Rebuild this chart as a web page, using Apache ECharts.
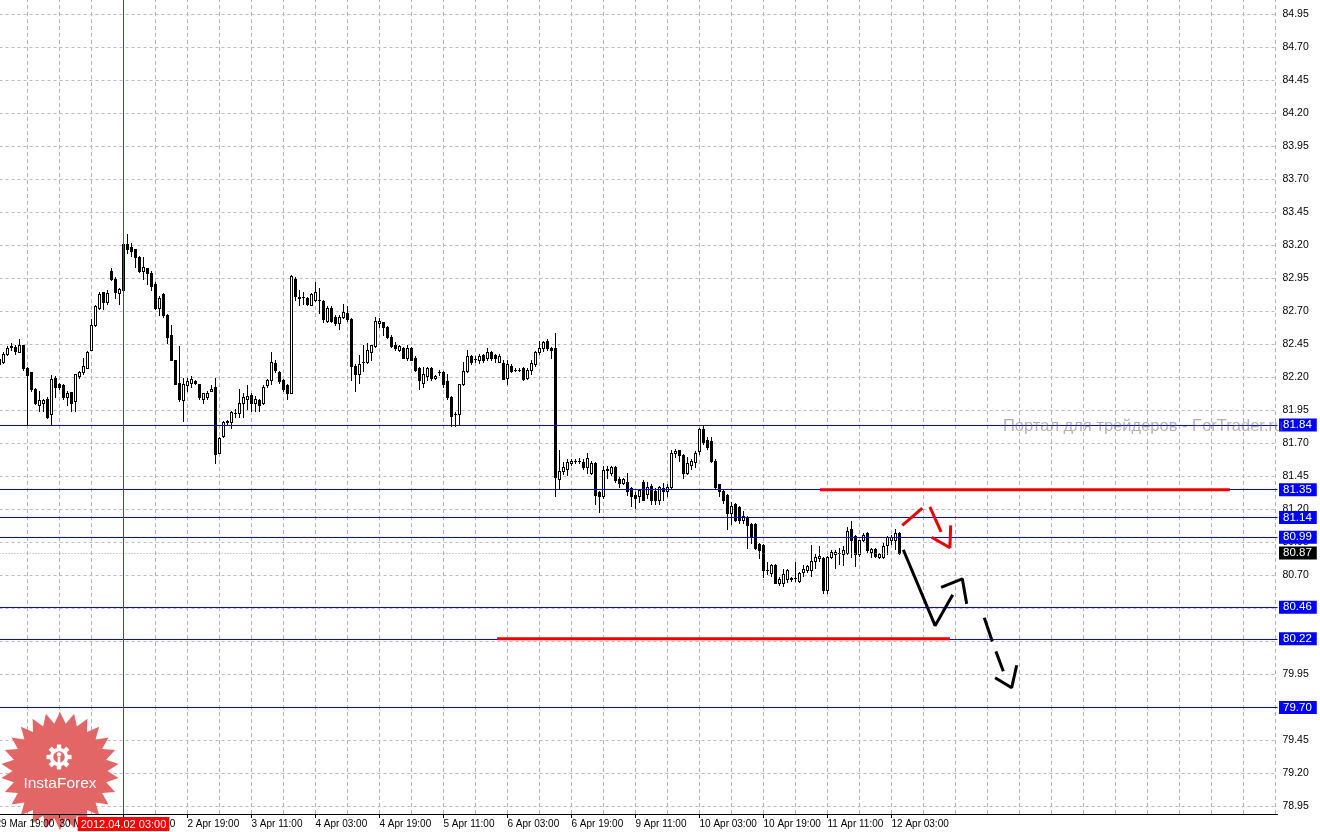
<!DOCTYPE html>
<html><head><meta charset="utf-8">
<script src="https://cdn.jsdelivr.net/npm/echarts@6/dist/echarts.min.js"></script>
<style>html,body{margin:0;padding:0;background:#fff}#c{width:1320px;height:832px}</style>
</head><body><div id="c"></div>
<script>
// ---- data (hourly bars, oldest first) ----
const opens=[82.30,82.32,82.38,82.43,82.43,82.39,82.45,82.27,82.24,82.11,
81.99,82.01,82.04,81.92,82.20,82.15,82.14,82.05,82.09,82.02,
82.21,82.24,82.27,82.41,82.60,82.73,82.85,82.77,83.01,82.95,
82.84,82.86,83.21,83.19,83.17,83.11,83.01,83.03,82.99,82.91,
82.73,82.83,82.67,82.52,82.33,82.16,82.03,82.14,82.16,82.17,
82.15,82.04,82.05,82.10,82.13,81.63,81.76,81.86,81.86,81.93,
81.93,82.01,82.04,82.07,82.01,82.03,82.01,82.14,82.18,82.31,
82.24,82.18,82.14,82.08,82.95,82.80,82.81,82.80,82.75,82.79,
82.79,82.78,82.63,82.73,82.66,82.61,82.66,82.69,82.64,82.29,
82.23,82.32,82.32,82.39,82.44,82.61,82.62,82.58,82.51,82.45,
82.41,82.42,82.35,82.42,82.35,82.27,82.16,82.21,82.27,82.20,
82.24,82.24,82.17,82.05,81.92,81.92,82.15,82.25,82.36,82.34,
82.33,82.37,82.35,82.39,82.37,82.32,82.31,82.20,82.29,82.26,
82.26,82.27,82.20,82.26,82.30,82.39,82.42,82.48,82.42,82.42,
81.43,81.49,81.51,81.55,81.57,81.57,81.56,81.52,81.48,81.55,
81.33,81.30,81.50,81.48,81.52,81.43,81.40,81.41,81.36,81.31,
81.30,81.41,81.32,81.38,81.34,81.27,81.36,81.34,81.37,81.63,
81.65,81.61,81.48,81.54,81.56,81.64,81.81,81.73,81.72,81.57,
81.39,81.34,81.31,81.17,81.24,81.22,81.12,81.14,81.09,81.09,
80.94,80.93,80.74,80.72,80.78,80.64,80.64,80.67,80.68,80.68,
80.66,80.73,80.74,80.74,80.81,80.83,80.83,80.59,80.84,80.86,
80.87,80.86,80.87,81.05,81.00,80.86,80.97,81.02,80.88,80.90,
80.84,80.84,80.93,80.97,80.97,81.02];
const closes=[82.34,82.38,82.42,82.44,82.40,82.45,82.27,82.22,82.11,82.01,
82.03,82.03,81.90,82.19,82.13,82.13,82.05,82.08,82.01,82.23,
82.24,82.29,82.39,82.60,82.74,82.83,82.77,82.84,82.95,82.85,
82.87,83.21,83.17,83.16,83.11,83.01,83.04,82.99,82.89,82.73,
82.80,82.67,82.51,82.33,82.15,82.04,82.15,82.17,82.19,82.16,
82.05,82.08,82.08,82.11,81.62,81.74,81.86,81.87,81.94,81.93,
82.01,82.05,82.06,82.01,82.04,81.99,82.13,82.18,82.32,82.26,
82.17,82.11,82.08,82.97,82.82,82.81,82.81,82.76,82.83,82.85,
82.79,82.64,82.73,82.63,82.61,82.66,82.70,82.64,82.29,82.23,
82.30,82.32,82.41,82.45,82.63,82.63,82.58,82.51,82.44,82.42,
82.44,82.35,82.42,82.33,82.26,82.18,82.23,82.27,82.20,82.21,
82.24,82.15,82.05,81.91,81.92,82.15,82.25,82.36,82.32,82.34,
82.36,82.33,82.39,82.35,82.35,82.36,82.19,82.30,82.25,82.26,
82.26,82.19,82.26,82.31,82.39,82.42,82.47,82.42,82.41,81.45,
81.49,81.52,81.56,81.57,81.57,81.57,81.52,81.59,81.55,81.31,
81.30,81.50,81.51,81.52,81.42,81.40,81.43,81.34,81.30,81.29,
81.35,81.27,81.37,81.27,81.27,81.37,81.34,81.37,81.63,81.64,
81.61,81.48,81.55,81.57,81.63,81.81,81.71,81.67,81.57,81.37,
81.34,81.27,81.17,81.23,81.12,81.12,81.15,81.08,80.99,80.91,
80.89,80.74,80.74,80.78,80.64,80.67,80.71,80.74,80.67,80.68,
80.72,80.75,80.77,80.81,80.84,80.85,80.59,80.84,80.88,80.88,
80.87,80.89,81.04,80.97,80.86,80.97,81.01,80.89,80.90,80.85,
80.86,80.92,80.99,80.99,81.02,80.87];
const lows=[82.29,82.31,82.37,82.41,82.38,82.39,82.26,81.84,82.10,82.00,
81.95,81.95,81.89,81.85,82.05,82.11,82.04,81.99,81.95,81.95,
82.20,82.23,82.27,82.41,82.59,82.72,82.72,82.76,82.94,82.80,
82.76,82.84,83.14,83.12,83.04,83.00,82.95,82.91,82.86,82.72,
82.67,82.66,82.46,82.33,82.15,82.02,81.87,82.10,82.13,82.15,
82.04,82.01,82.04,82.10,81.55,81.63,81.75,81.85,81.82,81.90,
81.90,81.90,81.96,81.95,81.95,81.95,82.00,82.13,82.15,82.24,
82.16,82.10,82.04,82.08,82.79,82.75,82.76,82.75,82.75,82.78,
82.69,82.62,82.62,82.62,82.60,82.57,82.65,82.63,82.18,82.10,
82.16,82.25,82.31,82.33,82.43,82.58,82.52,82.50,82.43,82.41,
82.40,82.35,82.33,82.33,82.25,82.11,82.13,82.18,82.18,82.19,
82.22,82.13,82.04,81.83,81.83,81.85,82.14,82.24,82.30,82.32,
82.31,82.32,82.33,82.33,82.32,82.32,82.19,82.15,82.24,82.25,
82.25,82.18,82.19,82.23,82.29,82.38,82.40,82.41,82.35,81.30,
81.36,81.47,81.46,81.54,81.55,81.55,81.51,81.48,81.47,81.24,
81.18,81.29,81.44,81.46,81.41,81.37,81.39,81.31,81.23,81.21,
81.26,81.27,81.29,81.24,81.24,81.24,81.27,81.30,81.36,81.60,
81.57,81.44,81.47,81.51,81.52,81.62,81.70,81.66,81.56,81.36,
81.30,81.25,81.05,81.09,81.11,81.10,81.10,80.91,80.95,80.90,
80.83,80.69,80.71,80.70,80.64,80.63,80.62,80.65,80.66,80.66,
80.65,80.70,80.73,80.70,80.76,80.81,80.57,80.57,80.83,80.76,
80.79,80.78,80.86,80.84,80.77,80.85,80.96,80.88,80.84,80.84,
80.83,80.83,80.86,80.94,80.90,80.86];
const highs=[82.35,82.39,82.44,82.46,82.45,82.49,82.45,82.28,82.24,82.12,
82.10,82.04,82.05,82.22,82.21,82.16,82.15,82.10,82.09,82.23,
82.25,82.35,82.40,82.64,82.75,82.85,82.85,82.86,83.03,82.96,
82.88,83.22,83.29,83.22,83.17,83.12,83.11,83.03,83.01,82.92,
82.82,82.84,82.68,82.60,82.33,82.44,82.20,82.20,82.21,82.18,
82.15,82.08,82.10,82.14,82.20,81.75,81.87,81.88,81.95,81.96,
82.11,82.08,82.14,82.08,82.06,82.04,82.14,82.19,82.39,82.33,
82.25,82.19,82.15,82.98,82.96,82.86,82.85,82.81,82.84,82.92,
82.88,82.79,82.74,82.74,82.67,82.67,82.76,82.74,82.65,82.30,
82.37,82.45,82.46,82.45,82.66,82.65,82.62,82.59,82.52,82.47,
82.45,82.43,82.45,82.43,82.36,82.28,82.28,82.28,82.28,82.22,
82.26,82.25,82.23,82.06,81.94,82.15,82.32,82.41,82.37,82.36,
82.38,82.38,82.42,82.40,82.38,82.38,82.33,82.33,82.30,82.27,
82.27,82.28,82.27,82.33,82.40,82.48,82.48,82.49,82.43,82.54,
81.65,81.56,81.58,81.58,81.58,81.59,81.58,81.63,81.57,81.56,
81.34,81.53,81.53,81.53,81.53,81.45,81.44,81.48,81.37,81.33,
81.35,81.42,81.41,81.39,81.36,81.38,81.40,81.39,81.65,81.66,
81.65,81.62,81.60,81.58,81.64,81.82,81.83,81.75,81.75,81.58,
81.39,81.35,81.32,81.26,81.25,81.23,81.19,81.15,81.10,81.10,
80.95,80.94,80.80,80.79,80.79,80.69,80.75,80.75,80.69,80.80,
80.73,80.78,80.78,80.93,80.86,80.92,80.84,80.85,80.89,80.89,
80.91,80.92,81.07,81.11,81.01,80.97,81.02,81.03,80.91,80.91,
80.87,80.95,81.00,81.01,81.05,81.03];

// time labels, one every 16 bar slots starting at slot 0
const tickLabels=["29 Mar 19:00","30 Mar 11:00","2 Apr 03:00","2 Apr 19:00","3 Apr 11:00","4 Apr 03:00","4 Apr 19:00","5 Apr 11:00","6 Apr 03:00","6 Apr 19:00","9 Apr 11:00","10 Apr 03:00","10 Apr 19:00","11 Apr 11:00","12 Apr 03:00"];
const priceTicks=[78.95,79.20,79.45,79.70,79.95,80.20,80.45,80.70,80.95,81.20,81.45,81.70,81.95,82.20,82.45,82.70,82.95,83.20,83.45,83.70,83.95,84.20,84.45,84.70,84.95];
const levelPrices=[81.84,81.35,81.14,80.99,80.46,80.22,79.70];
const bidPrice=80.87;
const cursorSlot=32, cursorLabel="2012.04.02 03:00";
// drawn objects: [slot, price] points
const redLevelSegments=[[[206.1,81.35],[308.6,81.35]],[[125.4,80.22],[238.6,80.22]]];
const redArrow=[[[226.7,81.08],[231.7,81.21]],[[233.6,81.22],[236.4,81.03]],[[234.05,80.99],[238.6,80.91],[238.8,81.08]]];
const blackSolid=[[[226.95,80.895],[234.9,80.32],[239.3,80.555]],[[236.4,80.61],[241.7,80.675],[242.8,80.485]]];
const blackDashed=[[[247.2,80.38],[249.2,80.20]],[[250.1,80.125],[251.95,79.975]],[[249.9,79.925],[254.05,79.85],[255.3,80.02]]];

// ---- layout ----
const N_SLOTS=321, FIRST_SLOT=1, GRID_STEP=8, LABEL_STEP=16;
const slots=Array.from({length:N_SLOTS},(_,i)=>String(i));
const candles=opens.map((o,k)=>[FIRST_SLOT+k,o,closes[k],lows[k],highs[k]]);
const vGrid=[];for(let v=0;v<N_SLOTS;v+=GRID_STEP)vGrid.push(v);
const FONT='"Liberation Sans", Arial, sans-serif';
const PX_PER_UNIT=132, PLOT_H=814;
const yMax=84.95+14.5/PX_PER_UNIT, yMin=yMax-PLOT_H/PX_PER_UNIT;

function showIdx(i){return i%LABEL_STEP===0 && i/LABEL_STEP<tickLabels.length;}

function segSeries(segs,color,z){
  return segs.map(s=>({type:'line',xAxisIndex:1,yAxisIndex:0,data:s,symbol:'none',silent:true,z:z,
    lineStyle:{color:color,width:3},animation:false}));
}

// MT4-style candle: crisp 3px body, 1px wick, hollow bull candles
function renderCandle(params, api){
  const x=api.value(0), o=api.value(1), c=api.value(2), l=api.value(3), h=api.value(4);
  const pO=api.coord([x,o]), pC=api.coord([x,c]), pL=api.coord([x,l]), pH=api.coord([x,h]);
  const cx=Math.floor(pO[0]);
  const yTop=Math.round(Math.min(pO[1],pC[1])), yBot=Math.round(Math.max(pO[1],pC[1]));
  const yH=Math.round(pH[1]), yL=Math.round(pL[1]);
  const kids=[
    {type:'rect',shape:{x:cx,y:yH,width:1,height:Math.max(1,yL-yH+1)},style:{fill:'#000'}},
    {type:'rect',shape:{x:cx-1,y:yTop,width:3,height:yBot-yTop+1},style:{fill:'#000'}}
  ];
  if(c>o && yBot-yTop>=2){
    kids.push({type:'rect',shape:{x:cx,y:yTop+1,width:1,height:yBot-yTop-1},style:{fill:'#fff'}});
  }
  return {type:'group',children:kids};
}

// star logo points
const starPts=[];const NS=26;
for(let k=0;k<2*NS;k++){const r=k%2===0?59:47.5;const a=k*Math.PI/NS-Math.PI/2;starPts.push([60+r*Math.cos(a),771+r*Math.sin(a)]);}
const gearParts=[];
gearParts.push({type:'circle',z:7,silent:true,x:59,y:757,shape:{cx:0,cy:0,r:7.5},style:{fill:'none',stroke:'#fff',lineWidth:3.5}});
for(let k=0;k<8;k++){gearParts.push({type:'rect',z:7,silent:true,x:59,y:757,rotation:k*Math.PI/4,shape:{x:-2.2,y:-12.5,width:4.4,height:4.5},style:{fill:'#fff'}});}
gearParts.push({type:'circle',z:7,silent:true,x:59,y:757,shape:{cx:0,cy:-2.5,r:2.2},style:{fill:'#fff'}});
gearParts.push({type:'rect',z:7,silent:true,x:59,y:757,shape:{x:-1.3,y:0,width:2.6,height:9},style:{fill:'#fff'}});

const labelBox=(txt,bg)=>({show:true,position:'end',distance:1.5,formatter:txt,color:'#fff',backgroundColor:bg,
  padding:[1,5,0,4],fontSize:11.5,fontFamily:FONT,lineHeight:12});

const chart=echarts.init(document.getElementById('c'),null,{renderer:'canvas'});
chart.setOption({
  animation:false,
  backgroundColor:'#ffffff',
  grid:{left:-6.5,top:0,width:1284,height:PLOT_H,containLabel:false,outerBoundsMode:'none'},
  xAxis:[{
    type:'category',data:slots,boundaryGap:true,position:'bottom',z:10,
    axisLine:{show:true,lineStyle:{color:'#000',width:1}},
    axisTick:{show:true,alignWithLabel:true,length:4,interval:(i)=>showIdx(i),lineStyle:{color:'#000'}},
    axisLabel:{show:true,interval:(i)=>showIdx(i),formatter:(v,i)=>tickLabels[i/LABEL_STEP]||'',align:'left',margin:5,
      fontSize:10,fontFamily:FONT,color:'#000',hideOverlap:false},
    splitLine:{show:false}
  },{
    type:'value',min:-0.5,max:N_SLOTS-0.5,show:false
  }],
  yAxis:[{
    type:'value',position:'right',min:yMin,max:yMax,z:10,
    axisLine:{show:true,lineStyle:{color:'#000',width:1}},
    axisTick:{show:true,length:3,customValues:priceTicks,lineStyle:{color:'#000'}},
    axisLabel:{show:true,customValues:priceTicks,formatter:(v)=>v.toFixed(2),margin:5,fontSize:10.5,fontFamily:FONT,color:'#000'},
    splitLine:{show:false}
  }],
  series:[
    {type:'line',xAxisIndex:1,yAxisIndex:0,data:[],silent:true,z:1,
      markLine:{silent:true,symbol:['none','none'],animation:false,z:1,label:{show:false},
        data:[].concat(
          vGrid.map(v=>({xAxis:v,lineStyle:{color:'#b4b4b4',type:[4,3],width:1}})),
          priceTicks.map(v=>({yAxis:v,lineStyle:{color:'#c6b6c0',type:[3,3],width:1}}))
        )}},
    {type:'custom',xAxisIndex:1,yAxisIndex:0,data:candles,renderItem:renderCandle,z:3,silent:true,clip:true,
      encode:{x:0,y:[1,2,3,4]}},
    {type:'line',xAxisIndex:1,yAxisIndex:0,data:[],silent:true,z:11,
      markLine:{silent:true,symbol:['none','none'],animation:false,z:11,
        data:[].concat(
          [{yAxis:bidPrice,lineStyle:{color:'#a8a8a8',type:[1,2],width:1},label:labelBox(bidPrice.toFixed(2),'#000')}],
          levelPrices.map(p=>({yAxis:p,lineStyle:{color:'#0000ff',type:'solid',width:1},label:labelBox(p.toFixed(2),'#0000ff')}))
        )}},
    {type:'line',xAxisIndex:1,yAxisIndex:0,data:[],silent:true,z:12,
      markLine:{silent:true,symbol:['none','none'],animation:false,z:12,
        data:[{xAxis:cursorSlot,lineStyle:{color:'#ff0000',type:'solid',width:1},
          label:{show:true,position:'start',distance:3,formatter:cursorLabel,color:'#fff',backgroundColor:'#ff0000',
            padding:[1,3,0,3],fontSize:11,fontFamily:FONT,lineHeight:13}}]}}
  ].concat(
    segSeries(redLevelSegments,'#ee0000',13),
    segSeries(redArrow,'#ee0000',13),
    segSeries(blackSolid,'#000000',13),
    segSeries(blackDashed,'#000000',13)
  ),
  graphic:{elements:[
    {type:'polygon',shape:{points:starPts},style:{fill:'#e36666'},z:5,silent:true}
  ].concat(gearParts,[
    {type:'text',x:60,y:784,z:7,silent:true,style:{text:'InstaForex',fill:'#ffffff',fontSize:15.5,fontFamily:FONT,align:'center',verticalAlign:'middle'}},
    {type:'text',x:1003,y:426,z:20,silent:true,style:{text:'Портал для трейдеров - ForTrader.ru',fill:'rgba(110,95,95,0.5)',fontSize:16.5,fontFamily:FONT,align:'left',verticalAlign:'middle'}}
  ])}
});
</script></body></html>
